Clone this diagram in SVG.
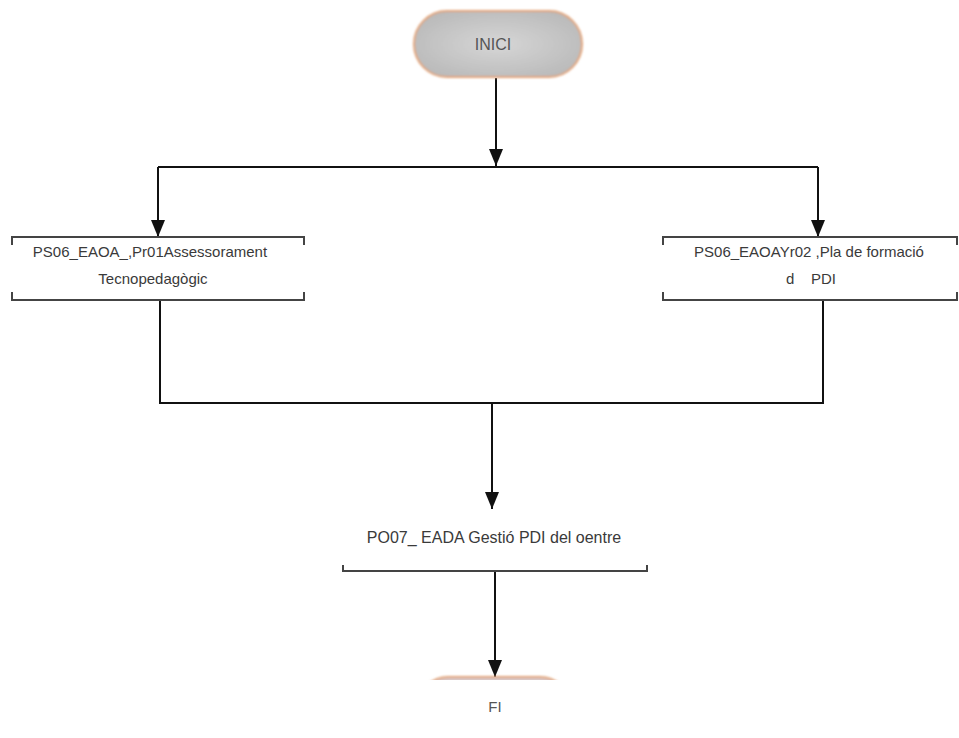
<svg xmlns="http://www.w3.org/2000/svg" width="959" height="738" viewBox="0 0 959 738">
  <style>
    .lbl { font-family: "Liberation Sans", Arial, sans-serif; font-size: 15px; fill: #3a3a3a; text-anchor: middle; }
    .conn { stroke: #111; stroke-width: 2; fill: none; }
    .box { stroke: #444; stroke-width: 2; fill: #fff; }
    .band { fill: #fff; stroke: none; }
  </style>
  <defs>
    <!-- filled triangular arrowhead, tip at the end of the line -->
    <marker id="arrow" viewBox="0 0 17 14" refX="17" refY="7" markerWidth="17" markerHeight="14" markerUnits="userSpaceOnUse" orient="auto">
      <path d="M0,0 L17,7 L0,14 Z" fill="#111"/>
    </marker>
    <radialGradient id="pillFill" cx="50%" cy="50%" r="60%">
      <stop offset="0" stop-color="#d6d6d6"/>
      <stop offset="1" stop-color="#b9b9b9"/>
    </radialGradient>
    <filter id="soft" x="-10%" y="-20%" width="120%" height="140%">
      <feGaussianBlur stdDeviation="1.2"/>
    </filter>
    <clipPath id="endClip">
      <rect x="400" y="670" width="200" height="10"/>
    </clipPath>
  </defs>

  <rect width="959" height="738" fill="#fff"/>

  <!-- connectors -->
  <g id="connectors">
    <path class="conn" d="M496,78 V166"/>
    <path class="conn" d="M496,150 V166" marker-end="url(#arrow)"/>
    <path class="conn" d="M158,167 H818"/>
    <path class="conn" d="M158,167 V237" marker-end="url(#arrow)"/>
    <path class="conn" d="M818,167 V237" marker-end="url(#arrow)"/>
    <path class="conn" d="M160,300 V403 H823 V300"/>
    <path class="conn" d="M492,403 V509" marker-end="url(#arrow)"/>
    <path class="conn" d="M495,571 V677" marker-end="url(#arrow)"/>
  </g>

  <!-- start terminal -->
  <g id="start">
    <rect x="414" y="11" width="168" height="66" rx="33" fill="url(#pillFill)" stroke="#e2a57a" stroke-width="2" filter="url(#soft)"/>
    <text class="lbl" x="493" y="50" style="font-size:16px;fill:#555">INICI</text>
  </g>

  <!-- left process -->
  <g id="proc-pr01">
    <rect class="box" x="12" y="237" width="292" height="63"/>
    <rect class="band" x="8" y="245" width="300" height="47"/>
    <text class="lbl" x="150" y="257">PS06_EAOA_,Pr01Assessorament</text>
    <text class="lbl" x="153" y="284">Tecnopedagògic</text>
  </g>

  <!-- right process -->
  <g id="proc-pr02">
    <rect class="box" x="663" y="237" width="294" height="63"/>
    <rect class="band" x="659" y="245" width="302" height="47"/>
    <text class="lbl" x="809" y="257">PS06_EAOAYr02 ,Pla de formació</text>
    <text class="lbl" x="811" y="284" xml:space="preserve">d    PDI</text>
  </g>

  <!-- center process -->
  <g id="proc-po07">
    <path class="box" d="M343,565 V571 H647 V565" fill="none"/>
    <text class="lbl" x="494" y="543" style="font-size:16px">PO07_ EADA Gestió PDI del oentre</text>
  </g>

  <!-- end terminal -->
  <g id="end">
    <g clip-path="url(#endClip)">
      <rect x="418" y="677" width="152" height="60" rx="30" fill="#d9c9c9" stroke="#e2a57a" stroke-width="2" filter="url(#soft)"/>
    </g>
    <text class="lbl" x="495" y="712" style="fill:#555">FI</text>
  </g>
</svg>
